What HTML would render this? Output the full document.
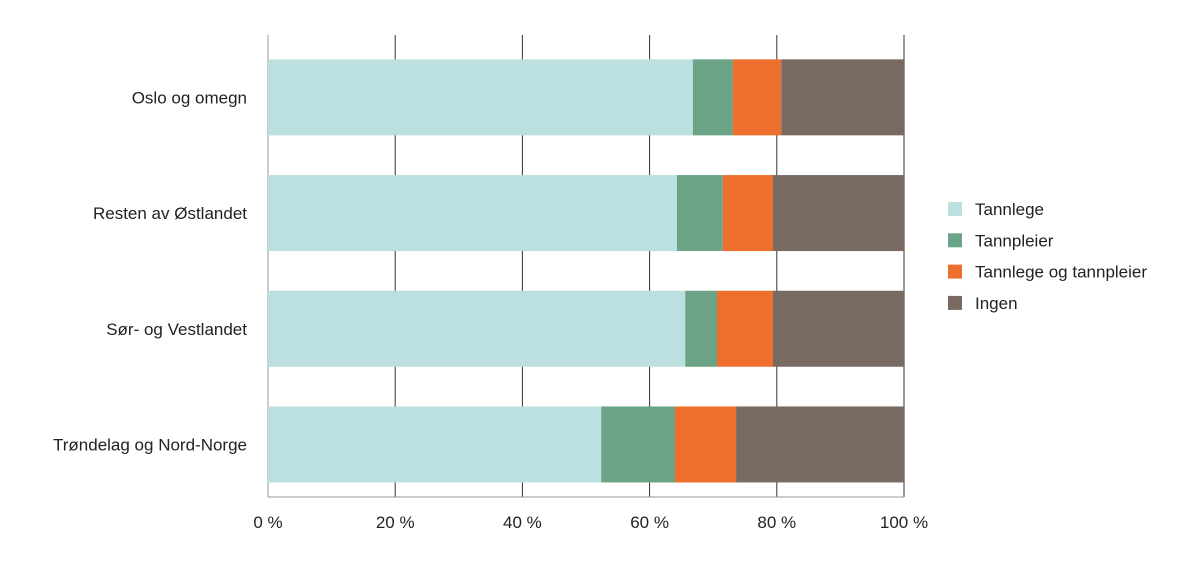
<!DOCTYPE html>
<html><head><meta charset="utf-8"><style>
html,body{margin:0;padding:0;background:#fff;}
text{font-family:"Liberation Sans",sans-serif;font-size:17px;fill:#222;}
</style></head><body>
<svg id="chart" width="1200" height="569"></svg>
<script>
const categories=["Oslo og omegn","Resten av Østlandet","Sør- og Vestlandet","Trøndelag og Nord-Norge"];
const seriesNames=["Tannlege","Tannpleier","Tannlege og tannpleier","Ingen"];
const tannlege=[66.8,64.3,65.6,52.4];
const tannpleier=[6.3,7.2,5.0,11.6];
const begge=[7.6,7.9,8.8,9.6];
const ingen=[19.3,20.6,20.6,26.4];
const tickValues=[0,20,40,60,80,100];
const tickLabels=["0 %","20 %","40 %","60 %","80 %","100 %"];
const colors=["#bbe0df","#6ba386","#ee6f2d","#786a61"];
const NS="http://www.w3.org/2000/svg";
const svg=document.getElementById('chart');
const x0=268,x1=904,yTop=35,yBot=497,bandStart=39.5,band=115.7,barH=76;
const xs=v=>x0+(x1-x0)*v/100;
const yb=i=>bandStart+band*i+(band-barH)/2;
function mk(t,a){const e=document.createElementNS(NS,t);for(const k in a)e.setAttribute(k,a[k]);svg.appendChild(e);return e;}
tickValues.forEach((v,i)=>{
 const l=mk('line',{x1:xs(v),x2:xs(v),y1:yTop,y2:yBot,stroke:i==0?'#999':'#333','stroke-width':1});
 
 
 const t=mk('text',{x:xs(v),y:528,'text-anchor':'middle'});t.textContent=tickLabels[i];
 
 
});
const ax=mk('line',{x1:x0,x2:x1,y1:yBot,y2:yBot,stroke:'#999','stroke-width':1});


const series=[tannlege,tannpleier,begge,ingen];
categories.forEach((c,i)=>{
 let acc=0;
 series.forEach((s,j)=>{
  const r=mk('rect',{x:xs(acc),y:yb(i),width:xs(acc+s[i])-xs(acc),height:barH,fill:colors[j]});
  
  
  acc+=s[i];
 });
 const t=mk('text',{x:247,y:yb(i)+barH/2+6,'text-anchor':'end'});t.textContent=c;
 
 
});
seriesNames.forEach((n,j)=>{
 const y=209+31.3*j;
 const r=mk('rect',{x:948,y:y-7,width:14,height:14,fill:colors[j]});
 
 
 const t=mk('text',{x:975,y:y+6});t.textContent=n;
 
 
});
</script>
</body></html>
